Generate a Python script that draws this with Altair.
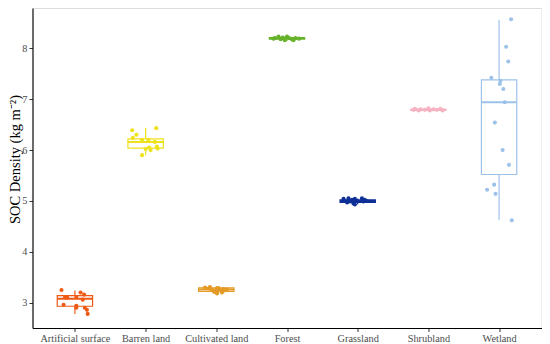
import altair as alt
import pandas as pd

categories = ["Artificial surface", "Barren land", "Cultivated land", "Forest",
              "Grassland", "Shrubland", "Wetland"]
colors = ["#EE5A14", "#EEE21C", "#E49A24", "#66B22A", "#0E2F96", "#F7B3C1", "#9CC2EA"]

# box statistics: lower whisker, q1, median, q3, upper whisker
whisk_lo = [2.78, 5.90, 3.18, 8.15, 4.93, 6.76, 4.63]
q1 = [2.93, 6.04, 3.22, 8.18, 4.97, 6.78, 5.52]
median = [3.08, 6.16, 3.26, 8.20, 5.00, 6.79, 6.94]
q3 = [3.14, 6.22, 3.29, 8.21, 5.02, 6.80, 7.38]
whisk_hi = [3.24, 6.44, 3.33, 8.24, 5.05, 6.82, 8.56]

# individual observations (value) and their horizontal jitter (category units)
artificial_vals = [3.25, 3.11, 3.10, 3.11, 3.20, 3.16, 3.06, 2.96, 2.94, 2.90, 2.90, 2.86, 2.78]
artificial_jit = [-0.19, -0.14, -0.11, 0.02, 0.08, 0.13, 0.11, -0.16, 0.02, 0.02, 0.14, 0.17, 0.18]
barren_vals = [6.39, 6.30, 6.24, 6.20, 6.20, 6.43, 6.16, 6.02, 6.05, 6.00, 6.07, 6.03, 5.90]
barren_jit = [-0.19, -0.13, -0.18, -0.05, 0.04, 0.15, 0.13, 0.00, 0.05, 0.07, 0.16, 0.17, -0.05]
cultivated_vals = [3.30, 3.28, 3.31, 3.25, 3.21, 3.26, 3.29, 3.21, 3.25, 3.20, 3.27, 3.24, 3.26, 3.18]
cultivated_jit = [-0.16, -0.11, -0.09, -0.06, -0.03, 0.00, 0.03, 0.01, 0.05, 0.08, 0.10, 0.11, 0.15, 0.01]
forest_vals = [8.20, 8.23, 8.18, 8.21, 8.16, 8.23, 8.20, 8.18, 8.16, 8.20, 8.19, 8.19]
forest_jit = [-0.17, -0.12, -0.09, -0.06, -0.03, 0.00, 0.03, 0.07, 0.09, 0.12, -0.19, 0.17]
grass_vals = [5.04, 5.00, 5.05, 4.99, 5.02, 4.95, 5.04, 5.00, 5.05, 4.99, 5.02, 5.00, 4.93, 4.97]
grass_jit = [-0.20, -0.18, -0.13, -0.11, -0.08, -0.06, -0.04, -0.01, 0.06, 0.08, 0.10, 0.13, -0.04, -0.15]
shrub_vals = [6.81, 6.78, 6.80, 6.79, 6.82, 6.78, 6.80, 6.79, 6.81, 6.78, 6.79]
shrub_jit = [-0.19, -0.14, -0.11, -0.05, 0.00, 0.02, 0.07, 0.12, 0.17, 0.20, -0.21]
wetland_vals = [8.57, 8.03, 7.74, 7.42, 7.36, 7.30, 7.20, 6.94, 6.54, 6.00, 5.71, 5.32, 5.22, 5.14, 4.62]
wetland_jit = [0.17, 0.10, 0.13, -0.11, 0.02, 0.01, 0.06, 0.08, -0.06, 0.05, 0.14, -0.07, -0.17, -0.05, 0.18]

all_vals = [artificial_vals, barren_vals, cultivated_vals, forest_vals,
            grass_vals, shrub_vals, wetland_vals]
all_jit = [artificial_jit, barren_jit, cultivated_jit, forest_jit,
           grass_jit, shrub_jit, wetland_jit]

rows = []
for i, (cat, vals, jits) in enumerate(zip(categories, all_vals, all_jit)):
    for v, j in zip(vals, jits):
        rows.append({"cat": cat, "x": i + 1 + j, "value": v})
pts = pd.DataFrame(rows)

box = pd.DataFrame({
    "cat": categories,
    "xc": [i + 1 for i in range(len(categories))],
    "xl": [i + 1 - 0.25 for i in range(len(categories))],
    "xr": [i + 1 + 0.25 for i in range(len(categories))],
    "lo": whisk_lo, "q1": q1, "med": median, "q3": q3, "hi": whisk_hi,
})

font = "Liberation Serif"
label_expr = "[" + ", ".join("'" + c + "'" for c in categories) + "][datum.value - 1]"

xscale = alt.Scale(domain=[0.4, 7.6], nice=False, zero=False)
yscale = alt.Scale(domain=[2.503, 8.792], nice=False, zero=False)
cscale = alt.Scale(domain=categories, range=colors)

xaxis = alt.Axis(values=list(range(1, 8)), labelExpr=label_expr, title=None,
                 labelPadding=1.5)
yaxis = alt.Axis(values=[3, 4, 5, 6, 7, 8], title="SOC Density (kg m⁻²)",
                 labelPadding=2, titleAngle=270, titleX=-17, titleY=151,
                 titleBaseline="middle", titleAlign="center")

base_box = alt.Chart(box)
color_enc = alt.Color("cat:N", scale=cscale, legend=None)

whisk_low = base_box.mark_rule(strokeWidth=1.2).encode(
    x=alt.X("xc:Q", scale=xscale, axis=xaxis),
    y=alt.Y("lo:Q", scale=yscale, axis=yaxis),
    y2="q1:Q", color=color_enc)
whisk_high = base_box.mark_rule(strokeWidth=1.2).encode(
    x=alt.X("xc:Q", scale=xscale, axis=xaxis),
    y=alt.Y("q3:Q", scale=yscale, axis=yaxis), y2="hi:Q",
    color=color_enc)
rect = base_box.mark_rect(fill="white", strokeWidth=1.2).encode(
    x=alt.X("xl:Q", scale=xscale, axis=xaxis), x2="xr:Q",
    y=alt.Y("q1:Q", scale=yscale, axis=yaxis), y2="q3:Q",
    stroke=alt.Stroke("cat:N", scale=cscale, legend=None))
med = base_box.mark_rule(strokeWidth=2).encode(
    x=alt.X("xl:Q", scale=xscale, axis=xaxis), x2="xr:Q",
    y=alt.Y("med:Q", scale=yscale, axis=yaxis),
    color=color_enc)
points = alt.Chart(pts).mark_circle(size=17, opacity=1).encode(
    x=alt.X("x:Q", scale=xscale, axis=xaxis),
    y=alt.Y("value:Q", scale=yscale, axis=yaxis),
    color=color_enc)

chart = alt.layer(whisk_low, whisk_high, rect, med, points).properties(
    width=509, height=320,
    autosize=alt.AutoSizeParams(type="none"),
    padding={"left": 24.5, "top": 0, "right": 0, "bottom": 16},
).configure_view(stroke=None).configure(background="white").configure_axis(
    grid=False, domainColor="black", domainWidth=1.1,
    tickColor="#333333", tickSize=3.5,
    labelFont=font, labelFontSize=10.3, labelColor="#4D4D4D",
    titleFont=font, titleFontSize=14.5, titleFontWeight="normal", titleColor="black",
)

chart.save("out.html", embed_options={"renderer": "svg", "actions": False})
